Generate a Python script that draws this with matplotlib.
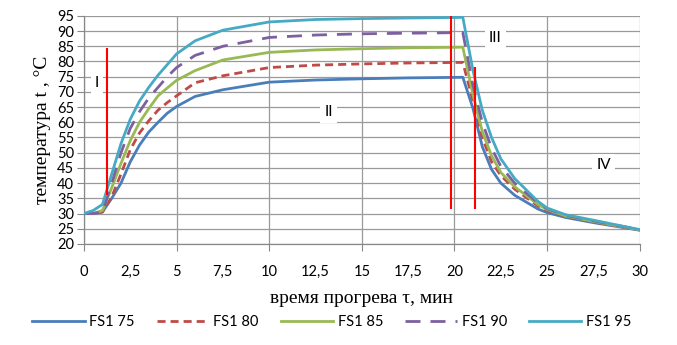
import matplotlib
matplotlib.use("Agg")
import matplotlib.pyplot as plt
from matplotlib.ticker import FixedLocator, FuncFormatter

# ---- data ----
time = [0, 0.5, 1, 1.5, 2, 2.5, 3, 3.5, 4, 4.5, 5, 6, 7.5, 10, 12.5, 15, 17.5, 20.45,
        21, 21.5, 22, 22.5, 23.25, 24.5, 25, 26, 27.5, 30]
fs1_75 = [30, 30, 30.5, 35, 40, 47, 52.5, 56.8, 60, 63, 65.2, 68.5, 70.7, 73.2, 73.9, 74.3, 74.6, 74.8,
          64.5, 52, 44.5, 40, 36, 31.5, 30.3, 28.7, 27, 24.5]
fs1_80 = [30, 30, 30.5, 35.5, 43, 51, 56.5, 60.5, 64, 66.5, 68.7, 73, 75.3, 78, 78.8, 79.2, 79.5, 79.7,
          67, 55, 47, 42.5, 38, 32.5, 31, 29, 27.2, 24.6]
fs1_85 = [30, 30, 31, 38.5, 46.5, 54, 60, 64.5, 68.7, 71.3, 73.8, 77, 80.5, 83, 83.8, 84.2, 84.5, 84.7,
          69, 57, 49, 43.5, 38.8, 33, 31.3, 29.2, 27.4, 24.6]
fs1_90 = [30, 30, 30.5, 40, 50, 58, 63.5, 68, 71.5, 75, 78, 82, 85, 87.9, 88.7, 89.1, 89.3, 89.5,
          72, 60, 51.5, 45.5, 40, 33.5, 31.6, 29.4, 27.6, 24.7]
fs1_95 = [30, 31, 33, 43, 53, 61, 67, 71.5, 75.5, 79, 82.5, 86.8, 90.3, 93, 93.8, 94.1, 94.3, 94.5,
          77, 64, 55, 48, 41.5, 34, 31.8, 29.6, 27.8, 24.7]
series_names = ["FS1 75", "FS1 80", "FS1 85", "FS1 90", "FS1 95"]

red_x = [1.24, 19.8, 21.08]
red_bottom = [36, 31.5, 31.5]
red_top = [84.5, 94.8, 78.3]

zone_labels = ["I", "II", "III", "IV"]
zone_x = [0.7, 13.2, 22.2, 28.05]
zone_y = [73, 63.4, 87.8, 46]

x_ticks = [0, 2.5, 5, 7.5, 10, 12.5, 15, 17.5, 20, 22.5, 25, 27.5, 30]
y_ticks = list(range(20, 100, 5))

# ---- figure ----
fig = plt.figure(figsize=(6.77, 3.45), dpi=100)
ax = fig.add_axes([0.124, 0.293, 0.821, 0.661])

colors = ["#4a7ebb", "#be4b48", "#98b954", "#7d60a0", "#46aac5"]
styles = ["-", (0, (2.9, 1.8)), "-", (0, (5.4, 3.6)), "-"]
data = [fs1_75, fs1_80, fs1_85, fs1_90, fs1_95]
for vals, c, ls, name in zip(data, colors, styles, series_names):
    ax.plot(time, vals, color=c, linestyle=ls, lw=2.0, label=name, zorder=3,
            solid_joinstyle="round")

ax.vlines(red_x, red_bottom, red_top, colors="#ff0000", lw=1.5, zorder=4)

for s, x, y in zip(zone_labels, zone_x, zone_y):
    ax.text(x, y, s, fontsize=11, family="Lato", ha="center", va="center", zorder=2,
            bbox=dict(facecolor="white", edgecolor="none", pad=3))

ax.set_xlim(0, 30)
ax.set_ylim(20, 95)

grid5 = [0, 5, 10, 15, 20, 25, 30]
ax.xaxis.set_major_locator(FixedLocator(grid5))
ax.xaxis.set_minor_locator(FixedLocator([v for v in x_ticks if v not in grid5]))
fmt = FuncFormatter(lambda v, p: (f"{v:g}").replace(".", ","))
ax.xaxis.set_major_formatter(fmt)
ax.xaxis.set_minor_formatter(fmt)
ax.yaxis.set_major_locator(FixedLocator(y_ticks))

ax.tick_params(axis="x", which="major", length=5, color="#888888", labelsize=10.5, pad=10)
ax.tick_params(axis="x", which="minor", length=0, labelsize=10.5, pad=15)
ax.tick_params(axis="y", which="major", length=5, color="#888888", labelsize=10.5, pad=2)
for lab in ax.get_xticklabels(which="both") + ax.get_yticklabels():
    lab.set_family("Lato")

ax.grid(True, which="major", axis="both", color="#9a9a9a", lw=0.9, zorder=0)
ax.set_axisbelow(True)
for sp in ["top", "right"]:
    ax.spines[sp].set_visible(False)
for sp in ["left", "bottom"]:
    ax.spines[sp].set_color("#888888")
    ax.spines[sp].set_linewidth(0.9)

ax.set_ylabel("температура t , °C", family="Liberation Serif", fontsize=14, labelpad=4)
ax.set_xlabel("время прогрева τ, мин", family="Liberation Serif", fontsize=14, labelpad=8)

fig.legend(loc="center", bbox_to_anchor=(0.49, 0.067), ncol=5, frameon=False,
           prop={"family": "Lato", "size": 10.5}, handlelength=3.6, columnspacing=1.5,
           handletextpad=0.3)

fig.savefig("out.png", dpi=100)
